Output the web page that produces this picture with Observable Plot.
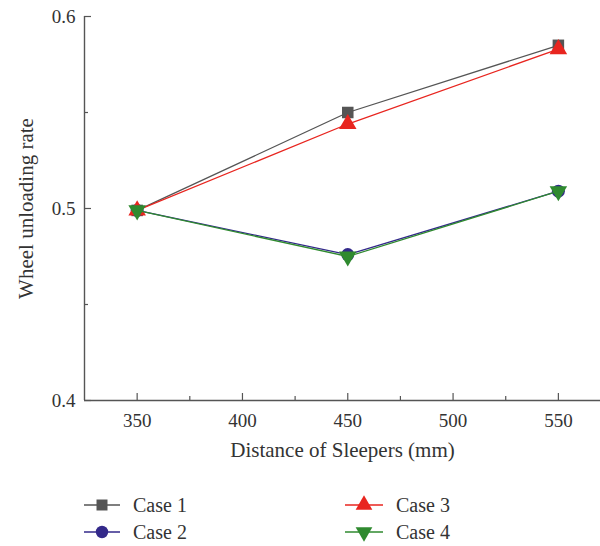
<!DOCTYPE html>
<html>
<head>
<meta charset="utf-8">
<script src="https://cdn.jsdelivr.net/npm/d3@7"></script>
<script src="https://cdn.jsdelivr.net/npm/@observablehq/plot@0.6"></script>
<style>
  html, body { margin: 0; padding: 0; background: #fff; }
  #wrap { width: 600px; font-family: "Liberation Serif", "DejaVu Serif", serif; color: #333; }
  #legend { position: relative; width: 600px; height: 76px; }
  .item { position: absolute; display: flex; align-items: center; font-size: 20px; height: 24px; }
  .item svg { display: block; }
  .item span { margin-left: 13px; }
</style>
</head>
<body>
<div id="wrap"></div>
<script>
const distances = [350, 450, 550];
const seriesNames = ["Case 1", "Case 2", "Case 3", "Case 4"];
const case1 = [0.499, 0.550, 0.585];
const case2 = [0.499, 0.476, 0.509];
const case3 = [0.499, 0.544, 0.583];
const case4 = [0.499, 0.475, 0.509];
const xMajorTicks = [350, 400, 450, 500, 550];
const xMinorTicks = [375, 425, 475, 525];
const yMajorTicks = [0.4, 0.5, 0.6];
const yMinorTicks = [0.45, 0.55];
const xDomain = [325, 570];
const yDomain = [0.4, 0.6];

const colors = {"Case 1": "#555555", "Case 2": "#33298a", "Case 3": "#e8251f", "Case 4": "#2f8a2f"};
const symbols = {"Case 1": "square", "Case 2": "circle", "Case 3": "triangle", "Case 4": "triangle"};
const rotations = {"Case 1": 0, "Case 2": 0, "Case 3": 0, "Case 4": 180};

const allValues = [case1, case2, case3, case4];
const data = [];
seriesNames.forEach((s, i) => {
  distances.forEach((d, j) => data.push({series: s, x: d, y: allValues[i][j]}));
});

const W = 600, H = 470, mt = 16, mb = 70, ml = 84, mr = 0;
const frameW = W - ml - mr, frameH = H - mt - mb;
const axisColor = "#555";

const marks = [
  Plot.ruleY([yDomain[0]], {stroke: axisColor, strokeWidth: 1.6}),
  Plot.ruleX([xDomain[0]], {stroke: axisColor, strokeWidth: 1.4}),
  Plot.tickX(xMajorTicks, {x: d => d, insetTop: frameH - 7, stroke: axisColor, strokeWidth: 1.2}),
  Plot.tickX(xMinorTicks, {x: d => d, insetTop: frameH - 4, stroke: axisColor, strokeWidth: 1.2}),
  Plot.tickY(yMajorTicks, {y: d => d, insetRight: frameW - 7, stroke: axisColor, strokeWidth: 1.2}),
  Plot.tickY(yMinorTicks, {y: d => d, insetRight: frameW - 4, stroke: axisColor, strokeWidth: 1.2}),
  Plot.axisX(xMajorTicks, {tickSize: 0, tickPadding: 13, fontSize: 19, label: null, fill: "#333"}),
  Plot.axisY(yMajorTicks, {tickSize: 0, tickPadding: 9, fontSize: 19, label: null, fill: "#333", tickFormat: d3.format(".1f")}),
  Plot.text(["Distance of Sleepers (mm)"], {text: d => d, frameAnchor: "bottom", textAnchor: "middle", dy: 56, fontSize: 21, fill: "#333"}),
  Plot.text(["Wheel unloading rate"], {text: d => d, frameAnchor: "left", textAnchor: "middle", lineAnchor: "middle", dx: -58, rotate: -90, fontSize: 21, fill: "#333"})
];

seriesNames.forEach(s => {
  const sd = data.filter(d => d.series === s);
  marks.push(Plot.line(sd, {x: "x", y: "y", stroke: colors[s], strokeWidth: 1.3}));
  marks.push(Plot.dot(sd, {x: "x", y: "y", symbol: symbols[s], r: 6.5, fill: colors[s], stroke: "none", rotate: rotations[s]}));
});

const chart = Plot.plot({
  width: W, height: H,
  marginTop: mt, marginBottom: mb, marginLeft: ml, marginRight: mr,
  x: {domain: xDomain, axis: null},
  y: {domain: yDomain, axis: null},
  style: {fontFamily: '"Liberation Serif", "DejaVu Serif", serif', background: "#fff", overflow: "visible"},
  marks
});
document.getElementById("wrap").appendChild(chart);

// Legend
const legend = document.createElement("div");
legend.id = "legend";
const legendPos = {
  "Case 1": {left: 84, top: 23},
  "Case 2": {left: 84, top: 50},
  "Case 3": {left: 345, top: 23},
  "Case 4": {left: 345, top: 50}
};
seriesNames.forEach(s => {
  const item = document.createElement("div");
  item.className = "item";
  item.style.left = legendPos[s].left + "px";
  item.style.top = legendPos[s].top + "px";
  const sw = s === "Case 1" || s === "Case 2" ? 36 : 38;
  const svg = d3.create("svg").attr("width", sw).attr("height", 24);
  svg.append("line").attr("x1", 0).attr("x2", sw).attr("y1", 12).attr("y2", 12)
    .attr("stroke", colors[s]).attr("stroke-width", 1.3);
  const symMap = {square: d3.symbolSquare, circle: d3.symbolCircle, triangle: d3.symbolTriangle};
  svg.append("path")
    .attr("d", d3.symbol(symMap[symbols[s]], Math.PI * 6.2 * 6.2)())
    .attr("transform", `translate(${sw / 2},12) rotate(${rotations[s]})`)
    .attr("fill", colors[s]);
  item.appendChild(svg.node());
  const label = document.createElement("span");
  label.textContent = s;
  item.appendChild(label);
  legend.appendChild(item);
});
document.getElementById("wrap").appendChild(legend);
</script>
</body>
</html>
